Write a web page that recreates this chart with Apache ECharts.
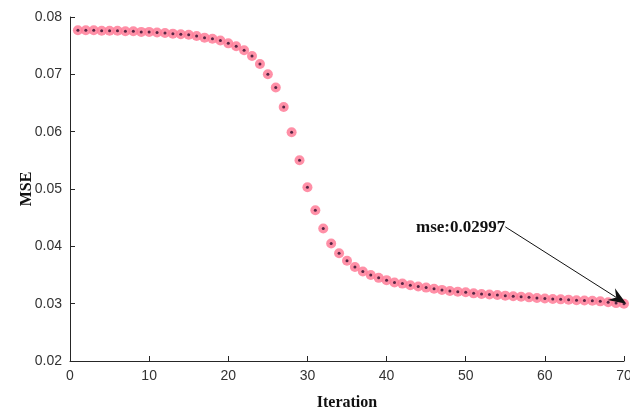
<!DOCTYPE html>
<html>
<head>
<meta charset="utf-8">
<script src="https://cdn.jsdelivr.net/npm/echarts@6/dist/echarts.min.js"></script>
<style>html,body{margin:0;padding:0;background:#fff;}#c{width:630px;height:412px;}</style>
</head>
<body>
<div id="c"></div>
<script>
const iterations = [];
for (let i = 1; i <= 70; i++) iterations.push(i);
const mse = [
  0.0777, 0.0777, 0.0777, 0.0776, 0.0776, 0.0776, 0.0775, 0.0775, 0.0774, 0.0774,
  0.0773, 0.0772, 0.0771, 0.0770, 0.0769, 0.0767, 0.0764, 0.0762, 0.0759, 0.0754,
  0.0749, 0.0742, 0.0732, 0.0718, 0.0700, 0.0677, 0.0643, 0.0599, 0.0550, 0.0503,
  0.0463, 0.0431, 0.0405, 0.0388, 0.0375, 0.0364, 0.0356, 0.0350, 0.0345, 0.0341,
  0.0337, 0.0335, 0.0332, 0.0330, 0.0328, 0.0326, 0.0324, 0.0322, 0.0321, 0.0320,
  0.0318, 0.0317, 0.0316, 0.0315, 0.0314, 0.0313, 0.0312, 0.0311, 0.0310, 0.0309,
  0.0308, 0.03075, 0.0307, 0.0306, 0.03055, 0.0305, 0.0304, 0.03025, 0.0301, 0.02997
];
const annotationText = 'mse:0.02997';
const annotationStart = [55, 0.0434];
const annotationEnd = [70.3, 0.02997];

const pts = iterations.map((x, i) => [x, mse[i]]);
const chart = echarts.init(document.getElementById('c'));
const axisCol = '#262626';
chart.setOption({
  animation: false,
  backgroundColor: '#fff',
  grid: { left: 70, right: 6, top: 17, bottom: 51, containLabel: false, outerBoundsMode: 'none' },
  xAxis: {
    type: 'value', min: 0, max: 70, interval: 10,
    name: 'Iteration', nameLocation: 'middle', nameGap: 34, nameMoveOverlap: false,
    nameTextStyle: { fontFamily: 'Liberation Serif', fontWeight: 'bold', fontSize: 16, color: '#111' },
    axisLine: { lineStyle: { color: axisCol, width: 1 } },
    axisTick: { inside: true, length: 5, lineStyle: { color: axisCol } },
    axisLabel: { fontFamily: 'Liberation Sans', fontSize: 14, color: '#333', margin: 8 },
    splitLine: { show: false }
  },
  yAxis: {
    type: 'value', min: 0.02, max: 0.08, interval: 0.01,
    name: 'MSE', nameLocation: 'middle', nameGap: 35, nameMoveOverlap: false,
    nameTextStyle: { fontFamily: 'Liberation Serif', fontWeight: 'bold', fontSize: 16, color: '#111' },
    axisLine: { show: true, lineStyle: { color: axisCol, width: 1 } },
    axisTick: { show: true, inside: true, length: 5, lineStyle: { color: axisCol } },
    axisLabel: { fontFamily: 'Liberation Sans', fontSize: 14, color: '#333', margin: 8,
      formatter: v => v.toFixed(2) },
    splitLine: { show: false }
  },
  series: [
    {
      type: 'scatter', data: pts, symbol: 'circle', symbolSize: 10,
      itemStyle: { color: '#ff7d98', opacity: 0.85 }, z: 2
    },
    {
      type: 'scatter', data: pts, symbol: 'circle', symbolSize: 3,
      itemStyle: { color: '#2a0a2a' }, z: 3
    }
  ]
});

const p0 = chart.convertToPixel({ gridIndex: 0 }, annotationStart);
const p1 = chart.convertToPixel({ gridIndex: 0 }, annotationEnd);
const dx = p1[0] - p0[0], dy = p1[1] - p0[1];
const len = Math.sqrt(dx * dx + dy * dy);
const ux = dx / len, uy = dy / len, nx = -uy, ny = ux;
const L = 18, W = 7, N = 12;
const head = [
  [p1[0], p1[1]],
  [p1[0] - ux * L + nx * W, p1[1] - uy * L + ny * W],
  [p1[0] - ux * N, p1[1] - uy * N],
  [p1[0] - ux * L - nx * W, p1[1] - uy * L - ny * W]
];
chart.setOption({
  graphic: [
    { type: 'line', z: 100, silent: true,
      shape: { x1: p0[0], y1: p0[1], x2: p1[0] - ux * N, y2: p1[1] - uy * N },
      style: { stroke: '#111', lineWidth: 1 } },
    { type: 'polygon', z: 100, silent: true,
      shape: { points: head }, style: { fill: '#111' } },
    { type: 'text', z: 100, silent: true, x: p0[0], y: p0[1] + 1,
      style: { text: annotationText, align: 'right', verticalAlign: 'middle',
        font: 'bold 17px "Liberation Serif"', fill: '#111' } }
  ]
});
</script>
</body>
</html>
